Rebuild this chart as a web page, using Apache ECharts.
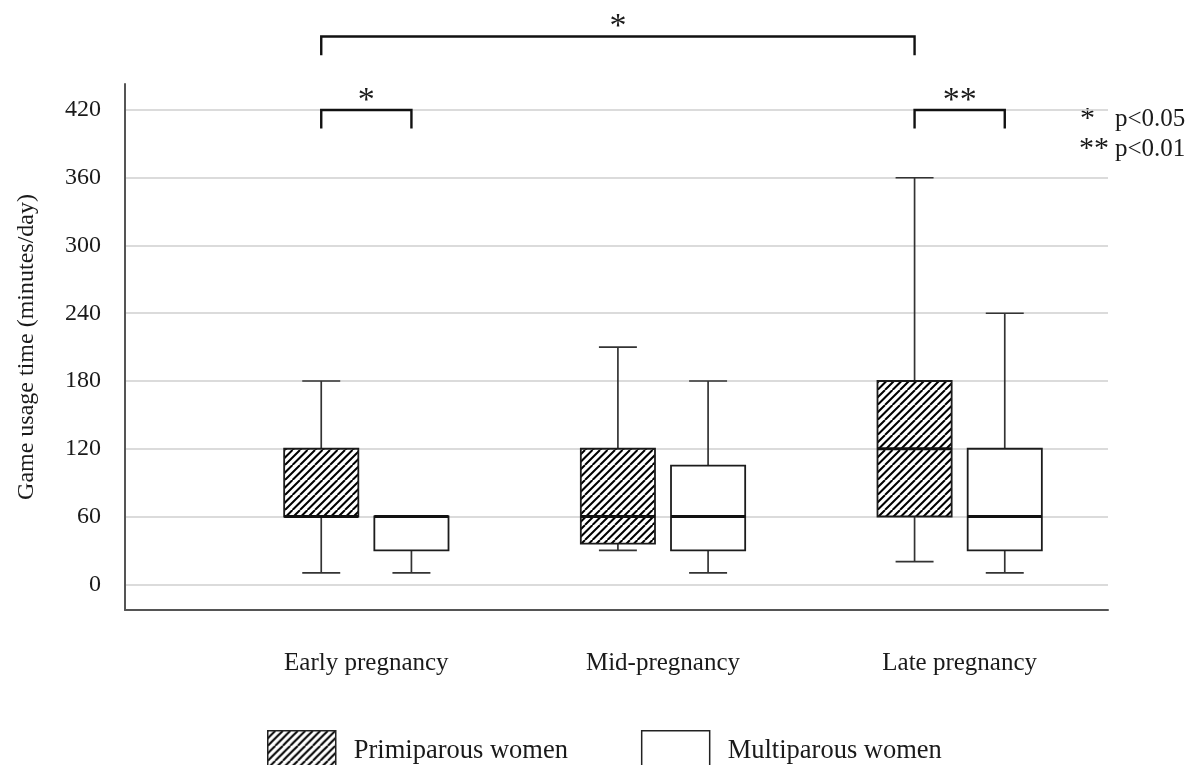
<!DOCTYPE html>
<html>
<head>
<meta charset="utf-8">
<script src="https://cdn.jsdelivr.net/npm/echarts@6/dist/echarts.min.js"></script>
<style>
  html, body { margin: 0; padding: 0; background: #fff; }
  #chart { width: 1195px; height: 765px; }
</style>
</head>
<body>
<div id="chart"></div>
<script>
// ---------- data ----------
const categories = ['Early pregnancy', 'Mid-pregnancy', 'Late pregnancy'];
const yTicks = [0, 60, 120, 180, 240, 300, 360, 420];
const groupNames = ['Primiparous women', 'Multiparous women'];
// [min, Q1, median, Q3, max] per category
const primiparous = [
  [10, 60, 60, 120, 180],
  [30, 36, 60, 120, 210],
  [20, 60, 120, 180, 360]
];
const multiparous = [
  [10, 30, 60, 60, 60],
  [10, 30, 60, 105, 180],
  [10, 30, 60, 120, 240]
];
// significance brackets: from (category, group) to (category, group), level in minutes
const bracketFrom = [[0, 0], [0, 0], [2, 0]];
const bracketTo = [[2, 0], [0, 1], [2, 1]];
const bracketLevel = [485, 420, 420];
const bracketLabels = ['*', '*', '**'];
const noteStars = ['*', '**'];
const noteTexts = ['p<0.05', 'p<0.01'];

// ---------- styles ----------
const FONT = "'Liberation Serif', 'Times New Roman', serif";
const TXT = '#1a1a1a';
const groupOffset = [-0.152, 0.152];   // fraction of category band
const boxFrac = 0.25;
const capFrac = 0.128;

function makeHatch() {
  const S = 7.5;
  const c = document.createElement('canvas');
  c.width = 15; c.height = 15;
  const ctx = c.getContext('2d');
  ctx.fillStyle = '#fff';
  ctx.fillRect(0, 0, 15, 15);
  ctx.strokeStyle = '#000';
  ctx.lineWidth = 2;
  ctx.beginPath();
  for (let k = -2; k <= 2; k++) {
    ctx.moveTo(k * S, 15);
    ctx.lineTo(k * S + 15, 0);
  }
  ctx.stroke();
  return { image: c, repeat: 'repeat' };
}
const hatch = makeHatch();
const fills = [hatch, '#ffffff'];

function boxRenderer(g) {
  return function (params, api) {
    const cat = api.value(0);
    const band = api.size([1, 0])[0];
    const cx = api.coord([cat, 0])[0] + groupOffset[g] * band;
    const bw = boxFrac * band, cw = capFrac * band;
    const y = v => api.coord([cat, v])[1];
    const yMin = y(api.value(1)), yQ1 = y(api.value(2)), yMed = y(api.value(3)),
          yQ3 = y(api.value(4)), yMax = y(api.value(5));
    const wStyle = { stroke: '#333', lineWidth: 1.7 };
    const children = [];
    if (yMax < yQ3 - 0.5) {
      children.push({ type: 'line', shape: { x1: cx, y1: yQ3, x2: cx, y2: yMax }, style: wStyle });
      children.push({ type: 'line', shape: { x1: cx - cw / 2, y1: yMax, x2: cx + cw / 2, y2: yMax }, style: wStyle });
    }
    if (yMin > yQ1 + 0.5) {
      children.push({ type: 'line', shape: { x1: cx, y1: yQ1, x2: cx, y2: yMin }, style: wStyle });
      children.push({ type: 'line', shape: { x1: cx - cw / 2, y1: yMin, x2: cx + cw / 2, y2: yMin }, style: wStyle });
    }
    children.push({ type: 'rect', shape: { x: cx - bw / 2, y: yQ3, width: bw, height: yQ1 - yQ3 },
      style: { fill: fills[g], stroke: '#1c1c1c', lineWidth: 1.8 } });
    children.push({ type: 'line', shape: { x1: cx - bw / 2, y1: yMed, x2: cx + bw / 2, y2: yMed },
      style: { stroke: '#111', lineWidth: 2.8 } });
    return { type: 'group', children };
  };
}

function bracketRenderer(params, api) {
  const i = params.dataIndex;
  const band = api.size([1, 0])[0];
  const f = bracketFrom[i], t = bracketTo[i];
  const x1 = api.coord([f[0], 0])[0] + groupOffset[f[1]] * band;
  const x2 = api.coord([t[0], 0])[0] + groupOffset[t[1]] * band;
  const yL = api.coord([0, bracketLevel[i]])[1];
  const yE = api.coord([0, bracketLevel[i] - 16.5])[1];
  const yT = api.coord([0, bracketLevel[i] + 8])[1];
  return {
    type: 'group',
    children: [
      { type: 'polyline', shape: { points: [[x1, yE], [x1, yL], [x2, yL], [x2, yE]] },
        style: { stroke: '#111', lineWidth: 2.4, fill: null } },
      { type: 'text', style: { text: bracketLabels[i], x: (x1 + x2) / 2, y: yT,
        textAlign: 'center', textVerticalAlign: 'middle', font: '34px ' + FONT, fill: TXT } }
    ]
  };
}

const Y_MIN = -22.8, Y_MAX = 443;

const chart = echarts.init(document.getElementById('chart'));
chart.setOption({
  backgroundColor: '#fff',
  animation: false,
  grid: [
    { left: 125, right: 87, top: 84, bottom: 155 },
    { left: 218, right: 87, top: 84, bottom: 155 }
  ],
  xAxis: [
    { gridIndex: 0, type: 'value', min: 0, max: 1,
      axisLine: { show: true, onZero: false, lineStyle: { color: '#555', width: 2 } },
      axisTick: { show: false }, axisLabel: { show: false }, splitLine: { show: false } },
    { gridIndex: 1, type: 'category', data: categories,
      axisLine: { show: false, onZero: false }, axisTick: { show: false }, splitLine: { show: false },
      axisLabel: { margin: 41, fontFamily: FONT, fontSize: 25, color: TXT } }
  ],
  yAxis: [
    { gridIndex: 0, type: 'value', min: Y_MIN, max: Y_MAX,
      name: 'Game usage time (minutes/day)', nameLocation: 'middle', nameGap: 86,
      nameTextStyle: { fontFamily: FONT, fontSize: 24, color: TXT },
      axisLine: { show: true, onZero: false, lineStyle: { color: '#555', width: 2 } },
      axisTick: { show: false, customValues: yTicks },
      axisLabel: { customValues: yTicks, margin: 24, fontFamily: FONT, fontSize: 24, color: TXT },
      splitLine: { show: true, lineStyle: { color: '#cfcfcf', width: 1.5 } } },
    { gridIndex: 1, type: 'value', min: Y_MIN, max: Y_MAX, show: false, splitLine: { show: false } }
  ],
  legend: {
    left: 262, top: 725, itemWidth: 68, itemHeight: 40, itemGap: 73,
    icon: 'rect', selectedMode: false,
    textStyle: { fontFamily: FONT, fontSize: 26.5, color: TXT, padding: [0, 0, 0, 13] },
    data: [
      { name: groupNames[0], itemStyle: { color: hatch, borderColor: '#222', borderWidth: 1.5 } },
      { name: groupNames[1], itemStyle: { color: '#fff', borderColor: '#222', borderWidth: 1.5 } }
    ]
  },
  series: [
    { name: groupNames[0], type: 'custom', xAxisIndex: 1, yAxisIndex: 1,
      renderItem: boxRenderer(0), clip: false,
      itemStyle: { color: hatch, borderColor: '#222' },
      encode: { x: 0, y: [1, 2, 3, 4, 5] },
      data: primiparous.map((d, i) => [i].concat(d)) },
    { name: groupNames[1], type: 'custom', xAxisIndex: 1, yAxisIndex: 1,
      renderItem: boxRenderer(1), clip: false,
      itemStyle: { color: '#fff', borderColor: '#222' },
      encode: { x: 0, y: [1, 2, 3, 4, 5] },
      data: multiparous.map((d, i) => [i].concat(d)) },
    { name: 'brackets', type: 'custom', xAxisIndex: 1, yAxisIndex: 1,
      renderItem: bracketRenderer, clip: false, silent: true,
      encode: { x: 0, y: 1 },
      data: bracketLevel.map((v, i) => [bracketFrom[i][0], v]) }
  ],
  graphic: [
    { type: 'text', left: 1080, top: 104, style: { text: noteStars[0], font: '30px ' + FONT, fill: TXT } },
    { type: 'text', left: 1115, top: 107, style: { text: noteTexts[0], font: '25px ' + FONT, fill: TXT } },
    { type: 'text', left: 1079, top: 134, style: { text: noteStars[1], font: '30px ' + FONT, fill: TXT } },
    { type: 'text', left: 1115, top: 137, style: { text: noteTexts[1], font: '25px ' + FONT, fill: TXT } }
  ]
});
</script>
</body>
</html>
